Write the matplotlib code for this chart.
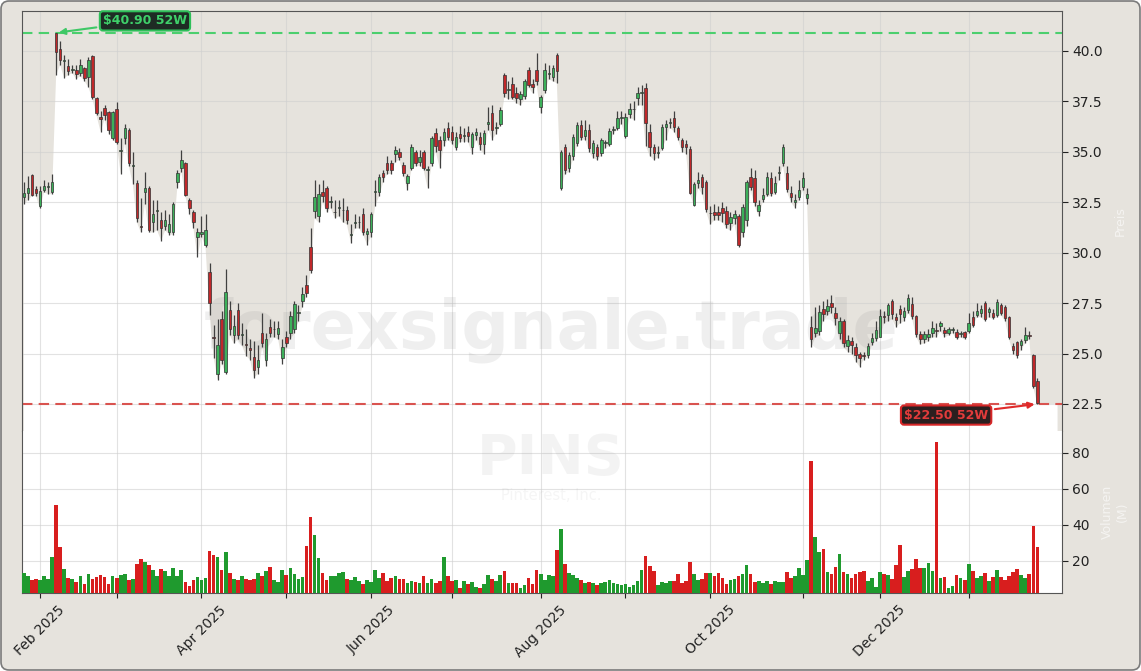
import numpy as np
import pandas as pd
import matplotlib
matplotlib.use("Agg")
import matplotlib.pyplot as plt
from matplotlib.patches import FancyBboxPatch
from matplotlib.transforms import IdentityTransform

# trading days (NYSE holidays removed)
holidays = ["2025-02-17", "2025-04-18", "2025-05-26", "2025-06-19", "2025-07-04",
            "2025-09-01", "2025-11-27", "2025-12-25", "2026-01-01", "2026-01-19"]
dates = pd.bdate_range("2025-01-28", "2026-01-28")
dates = dates[~dates.isin(pd.to_datetime(holidays))]

opens = [
    32.75, 32.95, 33.85, 33.15, 32.3, 33.1, 33.25, 33.0, 40.9, 40.1,
    39.5, 39.25, 39.05, 39.05, 38.9, 39.15, 38.7, 39.75, 37.65, 36.75,
    37.15, 36.95, 35.7, 37.1, 35.05, 35.7, 36.1, 34.3, 33.45, 31.3,
    33.0, 33.2, 31.5, 32.05, 31.6, 31.3, 31.0, 31.0, 33.5, 34.2,
    34.45, 32.6, 32.0, 30.8, 30.95, 30.4, 29.05, 25.8, 24.0, 26.7,
    24.1, 27.15, 25.9, 27.15, 25.9, 25.45, 25.25, 24.85, 24.35, 26.0,
    24.7, 26.3, 26.2, 25.95, 24.8, 25.8, 26.0, 26.2, 27.0, 27.6,
    28.4, 30.3, 32.05, 31.8, 33.0, 33.2, 32.5, 32.0, 32.2, 32.1,
    32.1, 30.9, 31.45, 31.5, 31.9, 30.95, 31.0, 33.0, 33.0, 33.95,
    34.45, 34.45, 34.9, 35.0, 34.35, 33.45, 34.2, 35.0, 34.5, 35.0,
    34.1, 34.45, 35.95, 35.6, 35.6, 36.2, 36.0, 35.25, 35.9, 35.8,
    36.0, 35.25, 35.85, 35.75, 35.4, 36.4, 36.9, 36.2, 36.4, 38.8,
    38.05, 38.35, 37.9, 37.6, 37.75, 39.05, 38.35, 39.05, 37.2, 38.05,
    38.85, 38.7, 39.8, 33.2, 35.25, 34.2, 34.8, 35.45, 36.35, 35.8,
    36.1, 34.95, 35.25, 34.95, 35.45, 35.4, 36.1, 36.2, 36.7, 35.8,
    36.85, 37.1, 37.65, 37.9, 38.15, 36.0, 35.25, 34.95, 35.2, 36.25,
    36.45, 36.7, 36.2, 35.6, 35.4, 35.15, 32.35, 33.45, 33.75, 33.5,
    31.95, 32.0, 32.0, 32.2, 32.05, 31.45, 31.7, 31.8, 31.0, 31.6,
    33.75, 33.7, 32.05, 32.65, 32.9, 33.7, 33.0, 33.95, 34.45, 33.95,
    32.95, 32.5, 32.75, 33.25, 32.7, 26.3, 26.0, 26.1, 27.2, 27.1,
    27.5, 27.0, 26.0, 26.6, 25.35, 25.6, 25.3, 25.0, 24.95, 24.95,
    25.55, 25.75, 25.8, 26.85, 26.9, 27.6, 26.8, 27.2, 26.8, 27.15,
    27.45, 26.85, 25.95, 25.7, 25.8, 26.0, 26.15, 26.35, 26.15, 26.0,
    26.15, 26.05, 25.95, 26.05, 26.1, 26.8, 26.9, 27.0, 27.5, 27.05,
    27.0, 26.9, 27.4, 27.3, 26.8, 25.35, 25.55, 25.4, 25.65, 25.9,
    24.95, 23.65,
]
highs = [
    33.5, 33.8, 33.9, 33.3, 33.3, 33.6, 33.5, 33.9, 40.9, 40.5,
    39.8, 39.6, 39.3, 39.3, 39.6, 39.2, 39.7, 39.8, 37.7, 37.0,
    37.3, 37.0, 37.0, 37.45, 35.7, 36.4, 36.2, 35.0, 33.6, 32.7,
    34.0, 33.3, 32.6, 32.6, 32.0, 32.1, 31.9, 32.5, 34.1, 35.1,
    34.5, 32.7, 32.1, 31.2, 31.8, 31.9, 29.5, 26.4, 26.7, 27.1,
    29.2, 27.6, 26.9, 27.5, 26.5, 26.2, 25.7, 25.6, 25.4, 27.0,
    26.0, 26.7, 26.6, 26.6, 25.7, 26.1, 27.1, 27.6, 27.4, 28.3,
    28.9, 31.2, 33.6, 33.4, 33.6, 33.3, 32.8, 32.6, 32.6, 32.7,
    32.3, 31.4, 31.9, 31.8, 32.2, 31.2, 32.0, 33.6, 33.9, 34.1,
    34.8, 34.6, 35.3, 35.2, 34.5, 33.9, 35.4, 35.1, 35.1, 35.1,
    34.3, 35.8, 36.2, 35.8, 36.2, 36.5, 36.3, 36.0, 36.3, 36.2,
    36.3, 36.0, 36.2, 36.0, 36.1, 37.2, 37.3, 36.5, 37.2, 38.9,
    38.5, 38.7, 38.2, 38.0, 38.6, 39.2, 38.6, 39.9, 37.8, 39.4,
    39.3, 39.3, 39.9, 35.1, 35.4, 35.0, 35.9, 36.5, 36.6, 36.6,
    36.4, 35.6, 35.4, 35.7, 35.6, 36.2, 36.3, 37.0, 37.0, 36.9,
    37.4, 37.5, 38.2, 38.3, 38.4, 36.4, 35.4, 35.3, 36.4, 36.6,
    36.7, 37.0, 36.3, 35.7, 35.6, 35.3, 33.5, 34.0, 33.9, 33.6,
    32.3, 32.4, 32.3, 32.5, 32.3, 32.0, 32.1, 31.9, 32.4, 33.6,
    34.2, 34.1, 32.6, 33.2, 34.0, 34.0, 33.8, 34.3, 35.4, 34.3,
    33.3, 32.9, 33.6, 34.0, 33.2, 26.85, 27.3, 27.4, 27.6, 27.7,
    27.9, 27.3, 26.8, 26.7, 25.9, 25.8, 25.5, 25.1, 25.1, 25.5,
    26.0, 26.6, 27.2, 27.1, 27.5, 27.7, 27.0, 27.4, 27.3, 27.95,
    27.8, 26.9, 26.1, 26.1, 26.2, 26.6, 26.5, 26.6, 26.3, 26.3,
    26.3, 26.2, 26.1, 26.1, 27.0, 27.1, 27.5, 27.4, 27.6, 27.3,
    27.2, 27.7, 27.5, 27.4, 26.85, 25.5, 25.6, 25.7, 26.3, 26.1,
    25.0, 23.8,
]
lows = [
    32.4, 32.6, 32.8, 32.8, 32.2, 33.0, 32.9, 32.9, 38.8, 39.3,
    38.65, 38.8, 38.9, 38.6, 38.75, 38.5, 38.2, 37.6, 36.8, 36.0,
    36.6, 35.9, 35.6, 35.4, 33.9, 35.4, 34.3, 33.4, 31.5, 31.0,
    32.4, 31.0, 31.0, 31.1, 30.6, 31.1, 30.9, 30.9, 33.2, 34.0,
    32.8, 31.9, 31.2, 29.8, 30.8, 30.3, 26.9, 24.8, 23.7, 24.5,
    24.0, 25.9, 25.5, 25.7, 25.4, 24.9, 24.7, 23.8, 24.0, 25.3,
    24.4, 25.8, 25.8, 25.7, 24.5, 25.3, 25.7, 26.0, 26.6, 27.3,
    27.8, 29.0, 31.7, 31.5, 32.5, 32.0, 32.2, 31.7, 31.8, 31.5,
    31.4, 30.5, 31.2, 31.2, 30.9, 30.4, 30.8, 32.3, 32.8, 33.5,
    33.9, 33.9, 34.5, 34.6, 33.8, 33.1, 34.1, 34.3, 34.3, 34.1,
    33.2, 34.3, 35.0, 34.2, 35.3, 35.6, 35.4, 35.1, 35.5, 35.5,
    35.5, 34.9, 35.6, 35.1, 34.9, 36.1, 35.6, 35.9, 36.3, 37.7,
    37.6, 37.6, 37.4, 37.3, 37.6, 38.2, 37.9, 38.3, 36.9, 37.9,
    38.6, 38.5, 38.4, 33.1, 33.9, 34.0, 34.6, 35.3, 35.6, 35.6,
    35.0, 34.7, 34.6, 34.8, 35.2, 35.3, 35.9, 36.1, 36.4, 35.7,
    36.7, 36.6, 37.3, 37.3, 35.3, 34.8, 34.6, 34.7, 35.1, 35.6,
    36.2, 36.0, 35.6, 35.0, 34.9, 32.9, 32.3, 33.2, 32.9, 32.0,
    31.4, 31.6, 31.6, 31.5, 31.2, 31.1, 31.4, 30.3, 30.8, 31.3,
    33.1, 32.3, 31.8, 32.5, 32.8, 32.8, 32.9, 33.6, 34.3, 33.0,
    32.5, 32.2, 32.6, 33.1, 32.4, 25.3, 25.8, 25.9, 26.6, 26.9,
    27.0, 26.4, 25.7, 25.3, 25.1, 25.0, 24.6, 24.35, 24.7, 24.8,
    25.4, 25.6, 25.8, 26.5, 26.6, 26.7, 26.3, 26.5, 26.6, 27.0,
    26.7, 25.8, 25.45, 25.5, 25.6, 25.8, 25.8, 26.1, 25.8, 25.9,
    26.0, 25.7, 25.8, 25.7, 26.0, 26.3, 26.8, 26.8, 26.6, 26.8,
    26.7, 26.8, 26.9, 26.6, 25.7, 25.0, 24.8, 25.2, 25.5, 25.7,
    23.3, 22.5,
]
closes = [
    32.95, 33.2, 32.85, 32.95, 33.05, 33.3, 33.3, 33.5, 39.95, 39.55,
    39.55, 39.0, 39.1, 38.85, 39.3, 38.65, 39.55, 37.7, 36.9, 36.65,
    36.8, 36.1, 36.95, 35.5, 35.1, 36.2, 34.45, 34.3, 31.7, 31.25,
    33.2, 31.1, 31.9, 32.1, 31.2, 31.6, 31.4, 32.4, 33.95, 34.6,
    32.85, 32.2, 31.5, 31.0, 31.0, 31.1, 27.5, 25.75, 25.4, 24.7,
    28.05, 26.2, 26.35, 25.9, 25.95, 25.4, 25.2, 24.2, 24.7, 25.5,
    25.7, 26.0, 26.2, 26.25, 25.3, 25.5, 26.85, 27.45, 27.0, 27.95,
    28.0, 29.15, 32.75, 32.9, 32.8, 32.2, 32.5, 32.0, 32.25, 32.1,
    31.6, 30.9, 31.5, 31.5, 31.0, 31.05, 31.9, 33.05, 33.75, 33.75,
    34.1, 34.1, 35.1, 34.75, 33.95, 33.8, 35.25, 34.45, 34.75, 34.2,
    34.1, 35.7, 35.3, 35.1, 36.0, 35.75, 35.6, 35.75, 35.7, 35.8,
    35.8, 35.9, 36.0, 35.4, 35.95, 36.5, 36.1, 36.2, 37.05, 37.9,
    38.05, 37.7, 37.65, 37.85, 38.5, 38.3, 38.2, 38.5, 37.7, 39.05,
    38.9, 39.15, 39.0, 35.0, 34.1, 34.85, 35.75, 36.35, 35.75, 36.1,
    35.2, 35.45, 34.8, 35.6, 35.45, 36.05, 36.15, 36.7, 36.7, 36.75,
    37.1, 37.1, 37.9, 37.9, 36.45, 35.25, 34.95, 34.95, 36.25, 36.4,
    36.5, 36.25, 35.75, 35.25, 35.25, 32.95, 33.4, 33.6, 33.25, 32.15,
    31.95, 31.85, 31.85, 31.95, 31.4, 31.75, 31.9, 30.4, 32.25, 33.5,
    33.25, 32.5, 32.35, 32.85, 33.75, 32.95, 33.45, 33.95, 35.25, 33.15,
    32.75, 32.6, 33.1, 33.7, 32.9, 25.7, 26.25, 27.05, 26.95, 27.35,
    27.3, 26.75, 26.6, 25.5, 25.65, 25.4, 24.95, 24.8, 24.9, 25.35,
    25.75, 26.15, 26.85, 26.8, 27.4, 26.95, 26.65, 26.95, 27.1, 27.75,
    26.85, 25.95, 25.7, 25.95, 25.95, 26.25, 26.1, 26.5, 26.0, 26.2,
    26.2, 25.8, 26.0, 25.8, 26.5, 26.4, 27.1, 27.2, 26.7, 27.2,
    26.8, 27.55, 27.0, 26.75, 25.8, 25.2, 24.95, 25.6, 25.9, 25.85,
    23.4, 22.55,
]
# volume in millions
volumes = [
    13.2, 11.7, 9.4, 9.8, 9.4, 11.7, 9.8, 22.4, 51.1, 27.9,
    15.4, 10.3, 9.8, 8.5, 11.7, 7.2, 12.8, 9.8, 11.3, 12.2,
    11.3, 7.2, 11.7, 10.3, 12.2, 12.8, 9.4, 9.8, 18.3, 20.9,
    19.6, 17.8, 15.0, 11.7, 15.4, 14.4, 11.7, 15.9, 11.7, 15.0,
    8.3, 6.2, 9.4, 10.9, 9.4, 10.3, 25.6, 23.3, 22.4, 15.0,
    24.8, 13.2, 9.8, 9.4, 11.7, 9.8, 9.4, 9.8, 13.2, 11.7,
    14.4, 16.5, 9.4, 8.3, 15.0, 12.2, 15.9, 12.8, 9.8, 10.9,
    28.3, 44.2, 34.4, 21.5, 13.2, 9.4, 11.7, 11.7, 13.2, 13.7,
    9.8, 9.4, 10.9, 8.7, 7.2, 9.4, 8.5, 15.0, 10.3, 13.2,
    8.7, 10.3, 11.7, 9.8, 9.8, 7.6, 8.7, 8.3, 7.6, 11.7,
    7.6, 9.8, 8.0, 8.7, 22.4, 11.7, 8.7, 9.4, 4.8, 8.7,
    7.2, 8.1, 5.7, 4.8, 7.2, 12.2, 9.8, 9.1, 12.2, 14.4,
    7.6, 7.6, 7.6, 4.8, 6.4, 10.5, 7.2, 15.0, 12.8, 9.4,
    12.2, 11.7, 26.1, 37.8, 18.3, 13.2, 12.2, 10.5, 9.4, 7.6,
    8.3, 8.0, 6.4, 7.6, 8.1, 9.4, 8.0, 7.2, 6.4, 7.2,
    5.7, 6.4, 8.7, 15.0, 22.8, 17.3, 14.4, 6.4, 8.3, 7.6,
    8.7, 9.1, 12.8, 7.6, 8.7, 19.2, 12.8, 9.4, 9.8, 13.2,
    13.2, 11.7, 13.2, 10.5, 7.2, 9.4, 9.8, 11.7, 12.8, 17.6,
    12.8, 8.3, 8.9, 8.0, 8.9, 7.2, 8.9, 8.1, 8.1, 13.7,
    10.5, 11.7, 16.2, 12.2, 20.5, 75.6, 33.2, 24.8, 26.5, 13.7,
    12.8, 16.9, 23.9, 13.7, 12.8, 10.3, 12.8, 13.7, 14.4, 8.7,
    10.5, 5.7, 13.7, 12.8, 12.2, 10.1, 17.5, 28.9, 11.3, 14.4,
    15.6, 21.0, 16.2, 16.2, 19.1, 14.4, 86.3, 10.5, 11.3, 4.8,
    6.2, 12.2, 10.5, 9.4, 18.3, 14.4, 10.5, 11.7, 13.2, 8.7,
    11.3, 15.0, 11.3, 9.4, 11.7, 13.7, 15.6, 12.2, 10.5, 12.8,
    39.4, 27.6,
]

ticker = "PINS"
company = "Pinterest, Inc."

o = np.array(opens)
h = np.array(highs)
lo = np.array(lows)
c = np.array(closes)
v = np.array(volumes)
idx = np.arange(len(c))
up = c >= o

BEIGE = "#e6e3dd"
fig = plt.figure(figsize=(11.41, 6.71), dpi=100)
fig.patch.set_facecolor("white")
frame = FancyBboxPatch((1, 1), 1139, 669, boxstyle="round,pad=0,rounding_size=8",
                       transform=IdentityTransform(), facecolor=BEIGE,
                       edgecolor="#7a7a7a", lw=1.2, zorder=-10)
fig.add_artist(frame)

W, H = 1141, 671
left, right = 22 / W, 1062 / W
ax = fig.add_axes([left, 1 - 431 / H, right - left, 420 / H])
axv = fig.add_axes([left, 1 - 593 / H, right - left, 162 / H], sharex=ax)
ax.set_facecolor(BEIGE)
axv.set_facecolor("white")

# white area under the price
fx = np.append(idx, idx[-1] + 5)
fy = np.append(lo, lo[-1])
ax.fill_between(fx, fy, 0, color="white", lw=0, zorder=1)

# candles
ax.vlines(idx, lo, h, color="#404040", lw=0.9, zorder=3)
body_h = np.maximum(np.abs(c - o), 0.04)
body_b = np.minimum(o, c)
ax.bar(idx, body_h, bottom=body_b, width=0.62,
       color=np.where(up, "#3cb05a", "#c0282a"), edgecolor="#333333", lw=0.5, zorder=4)

# volume
axv.bar(idx, v, width=0.9, color=np.where(up, "#1f9a2e", "#d81e1e"), zorder=3)

# 52 week lines
hi, lo_min = h.max(), lo.min()
ax.axhline(hi, color="#4ccf6e", ls=(0, (5, 3)), lw=1.5, zorder=2)
ax.axhline(lo_min, color="#d9534f", ls=(0, (5, 3)), lw=1.5, zorder=2)
ax.annotate(r"\$%.2f 52W" % hi, xy=(int(h.argmax()), hi), xytext=(30, 41.49),
            ha="center", va="center", fontsize=9, fontweight="bold", color="#3fd06a",
            bbox=dict(boxstyle="round,pad=0.25", fc="#1e2b24", ec="#2fbf5a", lw=1.5),
            arrowprops=dict(arrowstyle="-|>", color="#3fc866", lw=1.5, mutation_scale=9),
            zorder=6)
ax.annotate(r"\$%.2f 52W" % lo_min, xy=(int(lo.argmin()), lo_min), xytext=(228.4, 21.95),
            ha="center", va="center", fontsize=9, fontweight="bold", color="#e23b3b",
            bbox=dict(boxstyle="round,pad=0.25", fc="#2b1f1f", ec="#d62728", lw=1.5),
            arrowprops=dict(arrowstyle="-|>", color="#e02a2a", lw=1.5, mutation_scale=9),
            zorder=6)

# watermarks
ax.text(551 / W, 1 - 330 / H, "forexsignale.trade", transform=fig.transFigure,
        ha="center", va="center", fontsize=48, fontweight="bold",
        color="#808080", alpha=0.12, zorder=2)
fig.text(551 / W, 1 - 459 / H, ticker, ha="center", va="center", fontsize=40,
         fontweight="bold", color="#808080", alpha=0.09)
fig.text(551 / W, 1 - 495 / H, company, ha="center", va="center", fontsize=10.5,
         color="#808080", alpha=0.08)

# axes, ticks
ax.set_xlim(-0.45, 257.1)
ax.set_ylim(21.16, 41.98)
axv.set_ylim(2.2, 92.2)

month_idx = [i for i in range(1, len(dates)) if dates[i].month != dates[i - 1].month]
month_lbl = [dates[i].strftime("%b %Y") if dates[i].month % 2 == 0 else "" for i in month_idx]
axv.set_xticks(month_idx)
axv.set_xticklabels(month_lbl, rotation=45, fontsize=10, color="#222222")
ax.tick_params(axis="x", length=0, labelbottom=False)

ax.set_yticks(np.arange(22.5, 40.01, 2.5))
ax.set_yticklabels(["%.1f" % t for t in np.arange(22.5, 40.01, 2.5)])
axv.set_yticks([20, 40, 60, 80])
for a in (ax, axv):
    a.yaxis.tick_right()
    a.yaxis.set_label_position("right")
    a.tick_params(axis="y", length=4, labelsize=10, colors="#222222")
    a.tick_params(axis="x", colors="#222222")
    a.grid(True, color="#cfcfcf", lw=0.8, alpha=0.6)
    for s in a.spines.values():
        s.set_color("#555555")
ax.spines["bottom"].set_visible(False)
axv.spines["top"].set_visible(False)
ax.set_ylabel("Preis", color="white", alpha=0.6, fontsize=9, labelpad=8)
axv.set_ylabel("Volumen\n(M)", color="white", alpha=0.6, fontsize=9, labelpad=8)

fig.savefig("out.png", dpi=100, facecolor=fig.get_facecolor())
